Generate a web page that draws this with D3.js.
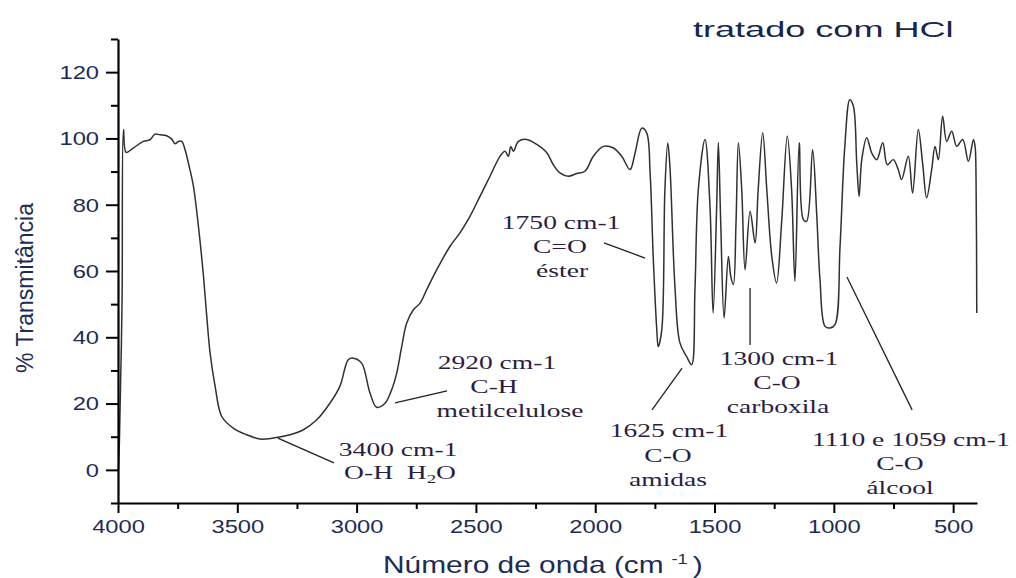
<!DOCTYPE html>
<html>
<head>
<meta charset="utf-8">
<script src="https://cdn.jsdelivr.net/npm/d3@7"></script>
<style>
  html, body { margin: 0; padding: 0; background: #fff; }
  svg { display: block; }
</style>
</head>
<body>
<svg id="chart" width="1016" height="578"></svg>
<script>
// FTIR spectrum: wavenumber (cm-1) and % transmittance
const wavenumber = [3998, 3994, 3983, 3977, 3966, 3936, 3894, 3866, 3845, 3824,
  3796, 3775, 3761, 3747, 3733, 3719, 3705, 3684, 3663, 3643,
  3628, 3614, 3593, 3565, 3517, 3461, 3405, 3349, 3279, 3223,
  3167, 3112, 3070, 3035, 3014, 2979, 2944, 2916, 2881, 2853,
  2832, 2811, 2790, 2762, 2734, 2706, 2664, 2609, 2567, 2525,
  2483, 2441, 2399, 2378, 2364, 2354, 2343, 2322, 2287, 2245,
  2203, 2176, 2148, 2113, 2078, 2043, 2008, 1966, 1924, 1889,
  1854, 1833, 1805, 1784, 1770, 1757, 1742, 1736, 1721, 1708,
  1696, 1687, 1666, 1645, 1617, 1596, 1582, 1568, 1540, 1519,
  1506, 1491, 1484, 1474, 1460, 1442, 1432, 1421, 1410, 1400,
  1386, 1372, 1351, 1330, 1317, 1298, 1281, 1260, 1240, 1219,
  1195, 1177, 1163, 1145, 1128, 1114, 1089, 1072, 1058, 1037,
  1016, 995, 974, 954, 933, 918, 904, 894, 883, 862,
  841, 820, 795, 776, 751, 730, 716, 688, 670, 646,
  628, 611, 590, 576, 562, 544, 527, 506, 485, 460,
  436, 415, 408, 404, 401];

const transmittance = [0, 9, 51, 102.7, 95.8, 97.1, 99.1, 99.6, 101.3, 101.1,
  100.8, 99.8, 98.4, 99.1, 99.1, 96.6, 92.6, 85.6, 73.5, 59.4,
  46.3, 35.2, 25.2, 16.1, 12.6, 10.6, 9.3, 9.6, 10.6, 12.1,
  15.1, 20.1, 25.2, 33.2, 33.7, 32.2, 23.2, 18.9, 20.1, 24.2,
  29.2, 37.2, 44.3, 48.3, 50.3, 54.4, 60.4, 67.4, 71.5, 76.5,
  82.5, 88.6, 94.6, 96.1, 94.6, 97.6, 96.1, 99.1, 99.7, 98.2,
  95.7, 92.1, 89.6, 88.6, 89.4, 90.1, 94.6, 97.6, 97.1, 94.6,
  90.6, 95.6, 103.1, 101.6, 89.6, 64.4, 42.3, 37.2, 42.3, 84.5,
  98.6, 91.6, 55.4, 38.3, 34.2, 31.7, 54.4, 84.5, 99.7, 79.5,
  47.3, 79.5, 98.7, 74.5, 45.8, 64.4, 58.4, 55.9, 74.5, 98.7,
  84.6, 60.4, 78.0, 68.5, 84.6, 101.7, 84.6, 64.4, 56.4, 74.5,
  100.7, 84.6, 56.9, 98.7, 75.5, 75.0, 96.6, 77.5, 57.4, 43.3,
  42.8, 43.8, 67.4, 97.6, 111.7, 109.7, 92.6, 82.5, 93.6, 100.2,
  95.6, 93.6, 98.7, 92.1, 93.6, 90.6, 87.6, 94.6, 83.5, 102.7,
  92.6, 82.1, 90.6, 97.6, 93.6, 106.7, 99.1, 102.2, 97.6, 99.7,
  93.1, 99.7, 97.6, 87.6, 47.3];

// Axis ticks
const xTicks = [4000, 3500, 3000, 2500, 2000, 1500, 1000, 500];
const xMinorTicks = [3750, 3250, 2750, 2250, 1750, 1250, 750];
const yTicks = [0, 20, 40, 60, 80, 100, 120];
const yMinorTicks = [-10, 10, 30, 50, 70, 90, 110, 130];

// Band assignments: text lines [label, wavenumber, transmittance] and leader lines
const bandLabels = [
  ["3400 cm-1", 2826, 4.2], ["O-H\u00a0\u00a0H|2|O", 2818, -2.8],
  ["2920 cm-1", 2412, 30.4], ["C-H", 2424, 23.2], ["metilcelulose", 2357, 16.0],
  ["1750 cm-1", 2143, 72.7], ["C=O", 2148, 65.4], ["éster", 2139, 58.2],
  ["1625 cm-1", 1691, 9.9], ["C-O", 1695, 2.4], ["amidas", 1695, -4.9],
  ["1300 cm-1", 1230, 31.6], ["C-O", 1238, 24.4], ["carboxila", 1234, 17.2],
  ["1110 e 1059 cm-1", 677, 7.2], ["C-O", 723, 0.0], ["álcool", 723, -7.3]
];
const leaderLines = [
  [3330, 9.6, 3095, 2.1],
  [2839, 20.2, 2621, 23.8],
  [1963, 68.5, 1791, 63.9],
  [1636, 30.7, 1762, 18.1],
  [1351, 54.9, 1351, 37.7],
  [945, 58.2, 672, 18.1]
];

const svg = d3.select("#chart");
svg.append("rect").attr("width", 1016).attr("height", 578).attr("fill", "#fff");

const x = d3.scaleLinear().domain([4000, 400]).range([118, 977]);
const y = d3.scaleLinear().domain([-10, 130]).range([503, 39]);

const axisColor = "#1d2c55";
const noteColor = "#2b1d42";
const stretch = 1.34;

// Spectrum trace
const points = wavenumber.map((w, i) => [w, transmittance[i]]);
svg.append("path")
  .datum(points)
  .attr("fill", "none")
  .attr("stroke", "#303030")
  .attr("stroke-width", 1.5)
  .attr("stroke-linejoin", "round")
  .attr("d", d3.line()
    .x(d => x(d[0]))
    .y(d => y(d[1]))
    .curve(d3.curveCatmullRom.alpha(0.5)));

// Minor ticks
svg.append("g")
  .attr("transform", `translate(0,${y(-10)})`)
  .call(d3.axisBottom(x).tickValues(xMinorTicks).tickSize(6).tickFormat("").tickSizeOuter(0))
  .call(g => g.select(".domain").remove())
  .call(g => g.selectAll("line").attr("stroke", "#000").attr("stroke-width", 2));
svg.append("g")
  .attr("transform", `translate(${x(4000)},0)`)
  .call(d3.axisLeft(y).tickValues(yMinorTicks).tickSize(7).tickFormat("").tickSizeOuter(0))
  .call(g => g.select(".domain").remove())
  .call(g => g.selectAll("line").attr("stroke", "#000").attr("stroke-width", 2));

// Major x axis
const gx = svg.append("g")
  .attr("transform", `translate(0,${y(-10)})`)
  .call(d3.axisBottom(x).tickValues(xTicks).tickSize(10).tickSizeOuter(0).tickFormat(d3.format("d")));
gx.select(".domain").attr("stroke", "#000").attr("stroke-width", 2.2);
gx.selectAll("line").attr("stroke", "#000").attr("stroke-width", 2);
gx.selectAll("text")
  .attr("y", null).attr("dy", null)
  .attr("transform", `translate(0,30) scale(${stretch},1)`)
  .attr("fill", axisColor)
  .style("font-family", "'Liberation Sans', Arial, sans-serif")
  .style("font-size", "17.7px");

// Major y axis
const gy = svg.append("g")
  .attr("transform", `translate(${x(4000)},0)`)
  .call(d3.axisLeft(y).tickValues(yTicks).tickSize(12).tickSizeOuter(0));
gy.select(".domain").attr("stroke", "#000").attr("stroke-width", 2.2);
gy.selectAll("line").attr("stroke", "#000").attr("stroke-width", 2);
gy.selectAll("text")
  .attr("x", null).attr("dy", "0.36em")
  .attr("transform", `translate(-19,0) scale(${stretch},1)`)
  .attr("fill", axisColor)
  .style("font-family", "'Liberation Sans', Arial, sans-serif")
  .style("font-size", "17.7px");

// Axis titles
const xt = svg.append("text")
  .attr("transform", "translate(383,573) scale(1.3,1)")
  .attr("fill", axisColor)
  .style("font-family", "'Liberation Sans', Arial, sans-serif")
  .style("font-size", "23px");
xt.append("tspan").text("Número de onda (cm");
xt.append("tspan").attr("dx", 6).attr("dy", -9).style("font-size", "14px").text("-1");
xt.append("tspan").attr("dx", 4).attr("dy", 9).text(")");

svg.append("text")
  .attr("transform", "translate(33,288) rotate(-90)")
  .attr("text-anchor", "middle")
  .attr("fill", axisColor)
  .style("font-family", "'Liberation Sans', Arial, sans-serif")
  .style("font-size", "23px")
  .text("% Transmitância");

// Sample title
svg.append("text")
  .attr("transform", "translate(693,37) scale(1.64,1)")
  .attr("fill", "#16264c")
  .style("font-family", "'Liberation Sans', Arial, sans-serif")
  .style("font-size", "22px")
  .text("tratado com HCl");

// Leader lines
svg.append("g").selectAll("line")
  .data(leaderLines)
  .join("line")
  .attr("x1", d => x(d[0])).attr("y1", d => y(d[1]))
  .attr("x2", d => x(d[2])).attr("y2", d => y(d[3]))
  .attr("stroke", "#222")
  .attr("stroke-width", 1.3);

// Band labels (a "|" pair marks a subscript)
const notes = svg.append("g")
  .style("font-family", "'Liberation Serif', 'Times New Roman', serif")
  .style("font-size", "19px")
  .attr("fill", noteColor);
bandLabels.forEach(([label, w, t]) => {
  const txt = notes.append("text")
    .attr("text-anchor", "middle")
    .attr("transform", `translate(${x(w)},${y(t)}) scale(1.45,1)`);
  const parts = label.split("|");
  if (parts.length === 1) {
    txt.text(label);
  } else {
    txt.append("tspan").text(parts[0]);
    txt.append("tspan").attr("dy", 4).style("font-size", "13px").text(parts[1]);
    txt.append("tspan").attr("dy", -4).text(parts[2]);
  }
});
</script>
</body>
</html>
